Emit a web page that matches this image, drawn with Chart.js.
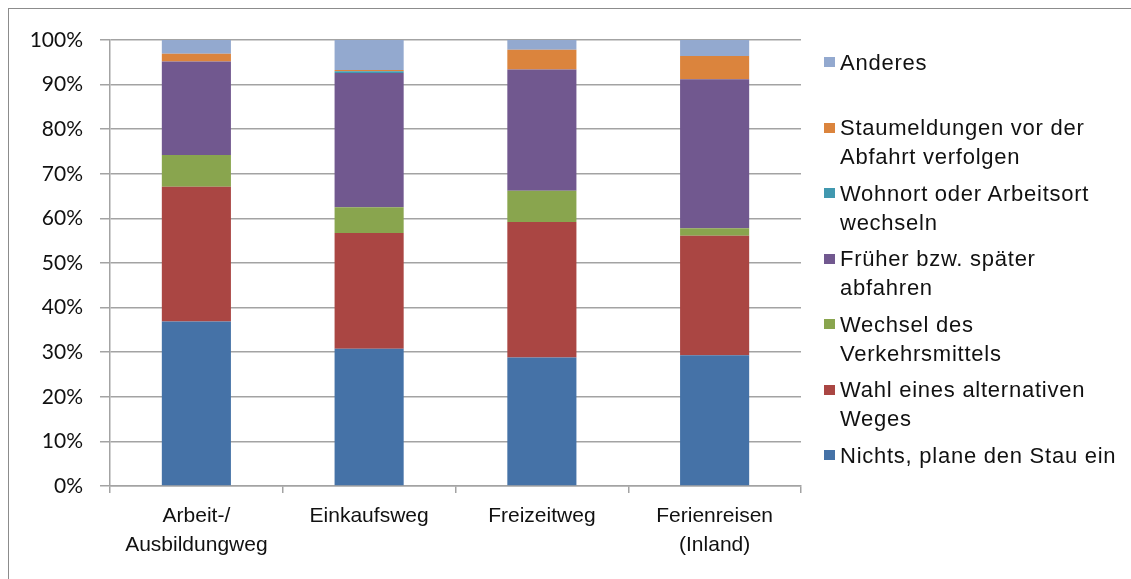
<!DOCTYPE html>
<html lang="de">
<head>
<meta charset="utf-8">
<title>Reaktion auf Stau nach Wegezweck</title>
<script src="https://cdn.jsdelivr.net/npm/chart.js@4.4.1/dist/chart.umd.min.js"></script>
<style>
  html, body { margin: 0; padding: 0; background: #ffffff; }
  #wrap { position: relative; width: 1131px; height: 579px; overflow: hidden; background: #ffffff; }
  #frame { position: absolute; left: 8px; top: 8px; width: 1200px; height: 700px;
           border-left: 1.5px solid #8c8c8c; border-top: 1.5px solid #8c8c8c; box-sizing: border-box; }
  #chart { position: absolute; left: 0; top: 0; }
  #legend { position: absolute; left: 0; top: 0; width: 1131px; height: 579px; pointer-events: none;
            font-family: "Liberation Sans", Arial, sans-serif; font-size: 22px; letter-spacing: 0.75px; color: #111; }
  .lg-box { position: absolute; width: 11px; height: 10px; }
  .lg-text { position: absolute; line-height: 29px; white-space: nowrap; }
</style>
</head>
<body>
<div id="wrap">
  <div id="frame"></div>
  <canvas id="chart" width="1131" height="579"></canvas>
  <div id="legend"></div>
</div>
<script>
// Wegezweck (x-axis categories, one array per wrapped label)
const categories = [
  ['Arbeit-/', 'Ausbildungweg'],
  ['Einkaufsweg'],
  ['Freizeitweg'],
  ['Ferienreisen', '(Inland)']
];

// Share of answers in percent, stacked from bottom to top
const nichts        = [36.9, 30.8, 28.8, 29.3];
const alternativWeg = [30.2, 25.9, 30.4, 26.8];
const verkehrsmittel = [7.1, 5.8, 7.0, 1.7];
const abfahrtszeit  = [21.0, 30.1, 27.2, 33.4];
const wohnortWechsel = [0.0, 0.4, 0.0, 0.0];
const staumeldungen = [1.7, 0.3, 4.4, 5.2];
const anderes       = [3.1, 6.7, 2.2, 3.6];

const seriesNames = [
  'Nichts, plane den Stau ein',
  'Wahl eines alternativen\nWeges',
  'Wechsel des\nVerkehrsmittels',
  'Früher bzw. später\nabfahren',
  'Wohnort oder Arbeitsort\nwechseln',
  'Staumeldungen vor der\nAbfahrt verfolgen',
  'Anderes'
];
const seriesValues = [nichts, alternativWeg, verkehrsmittel, abfahrtszeit, wohnortWechsel, staumeldungen, anderes];
const seriesColors = ['#4572A7', '#AA4643', '#89A54E', '#71588F', '#4198AF', '#DB843D', '#93A9CF'];

// Y-axis tick values
const yTicks = [0, 10, 20, 30, 40, 50, 60, 70, 80, 90, 100];

const gridGrey = '#a3a3a3';

const datasets = seriesValues.map((vals, i) => ({
  label: seriesNames[i],
  data: vals,
  backgroundColor: seriesColors[i],
  borderWidth: 0,
  stack: 'antwort',
  categoryPercentage: 1.0,
  barPercentage: 0.4
}));

const chart = new Chart(document.getElementById('chart'), {
  type: 'bar',
  data: { labels: categories, datasets: datasets },
  options: {
    responsive: false,
    animation: false,
    events: [],
    layout: { padding: { top: 40, right: 330, bottom: 0, left: 0 } },
    plugins: {
      legend: { display: false },
      tooltip: { enabled: false },
      title: { display: false }
    },
    scales: {
      x: {
        stacked: true,
        afterFit: (scale) => { scale.height = 93; },
        grid: {
          offset: true,
          drawOnChartArea: false,
          drawTicks: true,
          tickLength: 7,
          color: gridGrey,
          lineWidth: 1.5
        },
        border: { display: true, color: gridGrey, width: 1.5 },
        ticks: {
          color: '#111111',
          padding: 9,
          maxRotation: 0,
          autoSkip: false,
          font: { family: '"Liberation Sans", Arial, sans-serif', size: 21, lineHeight: '29px' }
        }
      },
      y: {
        stacked: true,
        min: 0,
        max: 100,
        afterFit: (scale) => { scale.width = 110; },
        afterBuildTicks: (scale) => { scale.ticks = yTicks.map(v => ({ value: v })); },
        grid: {
          drawTicks: true,
          tickLength: 10,
          color: gridGrey,
          lineWidth: 1.5
        },
        border: { display: true, color: gridGrey, width: 1.5 },
        ticks: {
          color: '#111111',
          padding: 17,
          callback: (v) => v + '%',
          font: { family: 'Lato, "Open Sans", sans-serif', size: 21 }
        }
      }
    }
  }
});

// Legend on the right, listed from the top segment down
(function buildLegend() {
  const host = document.getElementById('legend');
  const firstLineCenter = 62;
  const slot = 65.5;
  const order = chart.data.datasets.map((d, i) => i).reverse();
  order.forEach((dsIndex, k) => {
    const ds = chart.data.datasets[dsIndex];
    const cy = firstLineCenter + slot * k;
    const box = document.createElement('div');
    box.className = 'lg-box';
    box.style.left = '824px';
    box.style.top = (cy - 5) + 'px';
    box.style.background = ds.backgroundColor;
    host.appendChild(box);
    const txt = document.createElement('div');
    txt.className = 'lg-text';
    txt.style.left = '840px';
    txt.style.top = (cy - 14.5) + 'px';
    ds.label.split('\n').forEach((line, j) => {
      if (j > 0) txt.appendChild(document.createElement('br'));
      txt.appendChild(document.createTextNode(line));
    });
    host.appendChild(txt);
  });
})();
</script>
</body>
</html>
